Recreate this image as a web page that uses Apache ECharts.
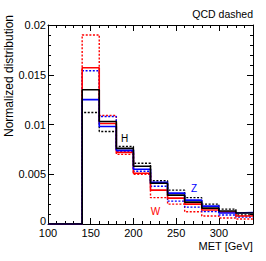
<!DOCTYPE html>
<html>
<head>
<meta charset="utf-8">
<script src="https://cdn.jsdelivr.net/npm/echarts@6/dist/echarts.min.js"></script>
<style>
html,body{margin:0;padding:0;background:#fff;}
#c{width:266px;height:261px;}
</style>
</head>
<body>
<div id="c"></div>
<script>
// Bin low edges (GeV), bin width 20
const binLow = [100, 120, 140, 160, 180, 200, 220, 240, 260, 280, 300, 320];
const xMax = 340;
// Solid: signal-like samples
const hSolid = [0, 0, 0.0135, 0.0103, 0.0076, 0.0058, 0.0041, 0.0029, 0.0022, 0.0016, 0.0013, 0.0011];
const zSolid = [0, 0, 0.0125, 0.0098, 0.0074, 0.0055, 0.0042, 0.0031, 0.0024, 0.0018, 0.0011, 0.00115];
const wSolid = [0, 0, 0.0157, 0.0101, 0.0072, 0.0051, 0.0034, 0.0026, 0.0020, 0.0014, 0.0012, 0.0008];
// Dashed: QCD
const hDashed = [0, 0, 0.0112, 0.0093, 0.0078, 0.0061, 0.00435, 0.0034, 0.00265, 0.0020, 0.0015, 0.0009];
const zDashed = [0, 0, 0.0154, 0.0108, 0.0073, 0.0053, 0.0038, 0.0023, 0.0017, 0.00124, 0.0009, 0.0007];
const wDashed = [0, 0, 0.0190, 0.0109, 0.0070, 0.0050, 0.00265, 0.0020, 0.00123, 0.0008, 0.0006, 0.0005];
// Axis ticks
const xTicks = [100, 150, 200, 250, 300];
const yTicks = [0, 0.005, 0.01, 0.015, 0.02];

const BLACK = '#000000', BLUE = '#0000ff', RED = '#ff0000';

function steps(vals) {
  const d = binLow.map((x, i) => [x, vals[i]]);
  d.push([xMax, vals[vals.length - 1]]);
  return d;
}
function ser(name, vals, color, dashed) {
  return {
    name: name, type: 'line', step: 'end', data: steps(vals),
    showSymbol: false, symbol: 'none', animation: false, silent: true,
    lineStyle: { color: color, width: dashed ? 1.4 : 1.6, type: dashed ? [2, 1.6] : 'solid' }
  };
}

const FONT = '"Liberation Sans", Arial, Helvetica, sans-serif';
const chart = echarts.init(document.getElementById('c'), null, { renderer: 'svg' });

const axisCommon = {
  axisLine: { show: true, onZero: false, lineStyle: { color: '#000', width: 1 } },
  axisTick: { show: true, inside: true, length: 6, lineStyle: { color: '#000', width: 1 } },
  minorTick: { show: true, splitNumber: 5, length: 3, lineStyle: { color: '#000', width: 1 } },
  splitLine: { show: false },
  minorSplitLine: { show: false }
};

chart.setOption({
  animation: false,
  backgroundColor: '#fff',
  grid: { left: 48, right: 13, top: 25, bottom: 37, containLabel: false },
  xAxis: [
    Object.assign({
      type: 'value', min: 100, max: xMax, interval: 50, position: 'bottom',
      axisLabel: {
        show: true, margin: 3, color: '#000', fontSize: 11, fontFamily: FONT,
        formatter: v => (xTicks.indexOf(v) >= 0 ? String(v) : '')
      }
    }, axisCommon),
    Object.assign({
      type: 'value', min: 100, max: xMax, interval: 50, position: 'top',
      axisLabel: { show: false }
    }, axisCommon)
  ],
  yAxis: [
    Object.assign({
      type: 'value', min: 0, max: 0.02, interval: 0.005, position: 'left',
      axisLabel: {
        show: true, margin: 2, color: '#000', fontSize: 11, fontFamily: FONT,
        formatter: v => {
          const t = yTicks.find(y => Math.abs(y - v) < 1e-9);
          if (t === undefined) return '';
          return t === 0 ? '{z|0}' : String(t);
        },
        rich: { z: { fontSize: 11, fontFamily: FONT, color: '#000', padding: [0, 0, 7, 0] } }
      }
    }, axisCommon),
    Object.assign({
      type: 'value', min: 0, max: 0.02, interval: 0.005, position: 'right',
      axisLabel: { show: false }
    }, axisCommon)
  ],
  series: [
    ser('W QCD', wDashed, RED, true),
    ser('Z QCD', zDashed, BLUE, true),
    ser('H QCD', hDashed, BLACK, true),
    ser('W', wSolid, RED, false),
    ser('Z', zSolid, BLUE, false),
    ser('H', hSolid, BLACK, false)
  ],
  graphic: [
    { type: 'text', right: 13, top: 8, style: { text: 'QCD dashed', font: '10.5px ' + FONT, fill: '#000' } },
    { type: 'text', right: 13, top: 240, style: { text: 'MET [GeV]', font: '11px ' + FONT, fill: '#000' } },
    { type: 'text', x: 3, y: 76, rotation: Math.PI / 2,
      style: { text: 'Normalized distribution', font: '12px ' + FONT, fill: '#000', align: 'center', verticalAlign: 'top' } },
    { type: 'text', x: 124.5, y: 138, style: { text: 'H', font: '10px ' + FONT, fill: BLACK, align: 'center', verticalAlign: 'middle' } },
    { type: 'text', x: 194, y: 188.5, style: { text: 'Z', font: '10px ' + FONT, fill: BLUE, align: 'center', verticalAlign: 'middle' } },
    { type: 'text', x: 155.5, y: 211, style: { text: 'W', font: '10px ' + FONT, fill: RED, align: 'center', verticalAlign: 'middle' } }
  ]
});
</script>
</body>
</html>
